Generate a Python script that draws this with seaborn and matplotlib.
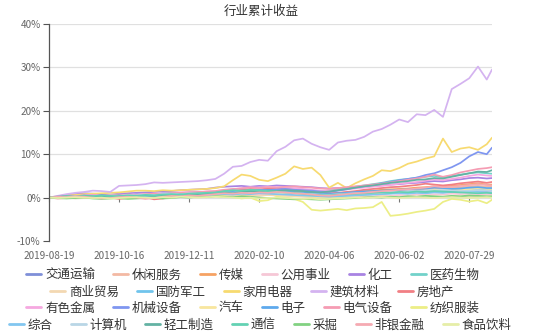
import numpy as np
import pandas as pd
import matplotlib
matplotlib.use("Agg")
import matplotlib.pyplot as plt
import seaborn as sns
from matplotlib.lines import Line2D
from matplotlib.ticker import FuncFormatter

sns.set_theme(style="white")
plt.rcParams['font.family'] = ['Noto Sans CJK SC', 'DejaVu Sans']

title = "行业累计收益"

# trading-day index of each sampled point (0 = 2019-08-19, 253 = last day)
day_index = [0, 5, 10, 15, 20, 25, 30, 35, 40, 45,
             50, 55, 60, 65, 70, 75, 80, 85, 90, 95,
             100, 105, 110, 115, 120, 125, 130, 135, 140, 145,
             150, 155, 160, 165, 170, 175, 180, 185, 190, 195,
             200, 205, 210, 215, 220, 225, 230, 235, 240, 245,
             250, 253]
n_days = 254
tick_days = [0, 40, 80, 120, 160, 200, 240]
tick_labels = ["2019-08-19", "2019-10-16", "2019-12-11", "2020-02-10",
               "2020-04-06", "2020-06-02", "2020-07-29"]

# cumulative returns, %
交通运输 = [0,0.1,0.0,0.1,0.2,0.1,0.0,-0.1,0.0,0.1,
        0.2,0.1,0.3,0.2,0.4,0.3,0.5,0.4,0.6,0.5,
        0.7,0.8,0.7,0.9,0.8,1.0,0.9,0.8,0.7,0.6,
        0.5,0.4,0.3,0.4,0.5,0.6,0.7,0.8,0.9,1.0,
        1.1,1.0,1.2,1.1,1.3,1.2,1.4,1.3,1.5,1.6,
        1.5,1.5]
休闲服务 = [0,0.1,0.2,0.0,-0.1,0.1,0.2,0.1,0.0,0.2,
        0.3,0.2,0.4,0.3,0.5,0.4,0.6,0.5,0.7,0.8,
        0.9,0.8,1.0,0.9,1.1,1.0,0.9,0.8,0.7,0.6,
        0.5,0.3,0.2,0.4,0.6,0.8,0.9,1.1,1.2,1.4,
        1.5,1.7,1.8,2.0,2.2,2.1,2.3,2.4,2.6,2.7,
        2.5,2.5]
传媒 = [0,0.1,0.3,0.2,0.4,0.5,0.3,0.2,0.4,0.6,
      0.5,0.7,0.6,0.8,0.7,0.9,1.0,0.9,1.1,1.2,
      1.3,1.2,1.4,1.3,1.5,1.4,1.6,1.5,1.4,1.3,
      1.2,1.0,0.9,1.0,1.2,1.3,1.5,1.6,1.8,1.9,
      2.0,2.1,2.3,2.4,2.6,2.5,2.7,2.9,3.1,3.3,
      3.0,3.0]
公用事业 = [0,0.0,-0.1,0.1,0.0,0.2,0.1,0.0,-0.1,0.0,
        0.1,0.2,0.1,0.3,0.2,0.4,0.3,0.4,0.5,0.4,
        0.6,0.5,0.7,0.6,0.8,0.7,0.6,0.5,0.4,0.3,
        0.2,0.1,0.0,0.1,0.2,0.3,0.4,0.3,0.5,0.4,
        0.6,0.5,0.7,0.6,0.8,0.7,0.9,0.8,0.9,0.8,
        0.8,0.8]
化工 = [0,0.3,0.6,0.8,1.0,0.9,0.8,0.7,0.9,1.0,
      1.1,1.2,1.3,1.4,1.5,1.7,1.8,1.9,2.0,2.3,
      2.5,2.6,2.7,2.5,2.7,2.6,2.8,2.7,2.6,2.5,
      2.4,2.2,2.1,2.2,2.3,2.4,2.6,2.7,2.8,3.0,
      3.1,3.3,3.4,3.6,3.8,3.7,4.0,4.2,4.5,4.6,
      4.4,4.5]
医药生物 = [0,0.1,0.2,0.1,0.3,0.2,0.4,0.3,0.5,0.4,
        0.6,0.5,0.7,0.8,0.7,0.9,1.0,1.1,1.0,1.2,
        1.4,1.3,1.5,1.7,1.6,1.8,1.7,1.9,1.8,1.6,
        1.5,1.4,1.6,1.9,2.2,2.5,2.8,3.1,3.4,3.8,
        4.1,4.3,4.6,4.8,5.0,4.7,5.0,5.3,5.6,5.8,
        5.6,5.5]
商业贸易 = [0,-0.1,0.0,-0.2,-0.1,0.0,0.1,0.0,-0.1,0.1,
        0.0,0.2,0.1,0.3,0.2,0.1,0.3,0.2,0.4,0.3,
        0.5,0.4,0.6,0.5,0.4,0.6,0.5,0.4,0.3,0.2,
        0.1,0.0,-0.1,0.0,0.1,0.0,0.2,0.1,0.3,0.2,
        0.1,0.3,0.2,0.4,0.3,0.2,0.4,0.3,0.2,0.3,
        0.3,0.3]
国防军工 = [0,0.1,0.0,0.2,0.1,0.3,0.2,0.4,0.3,0.5,
        0.4,0.6,0.5,0.7,0.6,0.8,0.7,0.9,0.8,1.0,
        1.1,1.0,1.2,1.1,1.3,1.2,1.1,1.0,0.9,0.8,
        0.7,0.6,0.5,0.6,0.8,0.9,1.0,1.1,1.2,1.3,
        1.4,1.5,1.4,1.6,1.7,1.6,1.8,1.7,1.9,2.0,
        1.9,1.8]
家用电器 = [0,0.3,0.5,0.6,0.8,0.9,1.0,1.1,1.2,1.4,
        1.6,1.6,1.5,1.7,1.6,1.7,1.8,1.9,2.0,2.2,
        2.6,4.0,5.3,5.0,4.1,3.8,4.6,5.5,7.2,6.6,
        6.9,5.2,2.3,3.4,2.2,3.3,4.2,5.0,6.3,6.1,
        6.8,7.8,8.3,9.0,9.5,13.6,10.5,11.3,11.6,11.0,
        12.3,13.8]
建筑材料 = [0,0.4,0.8,1.1,1.3,1.6,1.5,1.3,2.7,2.8,
        2.9,3.1,3.5,3.4,3.5,3.6,3.7,3.8,4.0,4.3,
        5.5,7.1,7.3,8.2,8.7,8.5,10.7,11.7,13.2,13.6,
        12.4,11.6,11.0,12.7,13.1,13.3,14.0,15.2,15.8,16.8,
        18.0,17.4,19.2,19.0,20.2,18.6,25.0,26.2,27.5,30.2,
        27.2,29.5]
房地产 = [0,-0.2,-0.1,0.2,0.1,0.3,0.2,0.0,-0.3,-0.1,
       0.2,0.1,-0.4,-0.2,0.1,0.3,0.5,0.7,0.8,1.0,
       1.3,1.6,1.8,2.0,1.9,2.1,2.2,2.0,1.9,1.7,
       1.5,1.2,1.0,1.1,1.3,1.5,1.8,2.0,2.2,2.4,
       2.5,2.7,2.9,3.2,3.0,2.8,3.0,3.3,3.5,3.7,
       3.4,3.6]
有色金属 = [0,0.2,0.4,0.3,0.5,0.6,0.4,0.5,0.7,0.6,
        0.8,0.7,0.9,1.0,1.1,1.2,1.3,1.2,1.4,1.5,
        1.7,1.9,2.2,2.4,2.3,2.5,2.4,2.3,2.2,2.0,
        1.8,1.6,1.5,1.7,1.9,2.1,2.3,2.5,2.7,2.9,
        3.2,3.4,3.6,3.9,4.2,4.0,4.3,4.6,5.0,5.3,
        5.1,5.0]
机械设备 = [0,0.2,0.4,0.3,0.5,0.4,0.3,0.4,0.6,0.5,
        0.7,0.6,0.8,0.9,0.8,1.0,1.1,1.0,1.2,1.3,
        1.5,1.4,1.6,1.5,1.8,1.7,1.9,2.0,1.8,1.7,
        1.6,1.4,1.3,1.6,1.9,2.3,2.6,2.9,3.3,3.6,
        4.0,4.3,4.6,5.2,5.6,6.3,7.0,8.0,9.5,10.5,
        10.0,11.5]
汽车 = [0,0.1,0.2,0.1,0.3,0.4,0.3,0.5,0.4,0.6,
      0.5,0.7,0.6,0.8,0.7,0.9,0.8,1.0,0.9,1.1,
      1.0,1.2,1.1,1.3,1.2,1.1,1.0,0.9,0.7,0.5,
      0.3,0.1,0.0,0.2,0.3,0.5,0.6,0.8,0.9,1.1,
      1.2,1.4,1.3,1.5,1.7,1.6,1.8,1.7,1.9,2.1,
      2.0,2.0]
电子 = [0,0.2,0.1,0.3,0.4,0.3,0.5,0.4,0.6,0.5,
      0.7,0.6,0.8,0.9,1.0,0.9,1.1,1.2,1.1,1.3,
      1.4,1.5,1.3,1.6,1.5,1.7,1.6,1.4,1.3,1.2,
      1.1,0.9,0.8,1.0,1.1,1.3,1.4,1.5,1.6,1.7,
      1.8,1.9,2.0,2.1,2.3,2.2,2.0,2.1,2.3,2.4,
      2.2,2.2]
电气设备 = [0,0.2,0.3,0.4,0.3,0.5,0.4,0.6,0.5,0.7,
        0.6,0.8,0.9,0.8,1.0,1.1,1.2,1.3,1.4,1.5,
        1.8,2.0,2.1,2.3,2.2,2.4,2.3,2.5,2.6,2.4,
        2.3,2.1,2.0,2.2,2.4,2.6,2.8,3.0,3.2,3.5,
        3.8,4.1,4.4,4.8,5.3,4.8,5.2,5.8,6.2,6.6,
        6.8,7.0]
纺织服装 = [0,0.1,0.0,0.2,0.1,0.3,0.2,0.1,0.3,0.2,
        0.4,0.3,0.2,0.4,0.3,0.5,0.4,0.3,0.2,0.4,
        0.3,0.1,-0.2,0.0,-0.8,-0.6,0.2,0.0,-0.3,-1.0,
        -2.8,-3.0,-2.8,-2.6,-2.9,-2.5,-2.4,-2.2,-1.0,-4.2,
        -4.0,-3.7,-3.3,-3.0,-2.6,-1.0,-0.3,-0.5,-0.9,-0.6,
        -1.3,-0.5]
综合 = [0,0.0,0.1,0.0,0.2,0.1,0.0,0.1,0.2,0.1,
      0.3,0.2,0.4,0.3,0.5,0.4,0.6,0.5,0.6,0.7,
      0.8,0.7,0.9,0.8,1.0,0.9,0.8,0.7,0.6,0.5,
      0.4,0.3,0.2,0.3,0.4,0.5,0.6,0.7,0.8,0.9,
      1.0,0.9,1.1,1.0,1.2,1.1,1.3,1.2,1.4,1.3,
      1.2,1.2]
计算机 = [0,0.1,0.2,0.3,0.2,0.4,0.3,0.5,0.4,0.6,
       0.5,0.7,0.6,0.8,0.9,0.8,1.0,0.9,1.1,1.0,
       1.2,1.1,1.3,1.2,1.4,1.3,1.2,1.1,1.0,0.9,
       0.8,0.7,0.6,0.8,0.9,1.0,1.1,1.2,1.3,1.4,
       1.3,1.5,1.4,1.6,1.5,1.7,1.6,1.5,1.6,1.7,
       1.6,1.5]
轻工制造 = [0,0.1,0.3,0.2,0.4,0.3,0.2,0.1,0.3,0.4,
        0.3,0.5,0.4,0.6,0.5,0.7,0.6,0.8,0.9,1.0,
        1.2,1.0,1.3,1.5,1.4,1.6,1.5,1.7,1.6,1.5,
        1.3,1.2,1.4,1.7,2.0,2.3,2.6,2.8,3.1,3.4,
        3.6,3.8,4.1,4.2,4.5,4.4,4.8,5.2,5.6,6.0,
        5.9,6.3]
通信 = [0,0.2,0.3,0.2,0.4,0.3,0.5,0.4,0.3,0.5,
      0.4,0.6,0.5,0.7,0.8,0.7,0.9,1.0,1.1,1.2,
      1.5,1.7,1.6,1.8,1.7,1.5,1.4,1.2,1.1,0.9,
      0.7,0.6,0.5,0.7,0.8,0.9,1.0,1.1,1.2,1.1,
      1.3,1.2,1.4,1.3,1.5,1.4,1.3,1.2,1.1,1.0,
      1.1,1.0]
采掘 = [0,-0.1,-0.2,-0.1,0.0,-0.2,-0.3,-0.2,-0.1,-0.3,
      -0.2,-0.1,0.0,-0.2,-0.1,0.1,0.0,0.2,0.1,0.3,
      0.2,0.1,0.3,0.2,0.0,-0.1,-0.2,-0.3,-0.4,-0.3,
      -0.4,-0.5,-0.4,-0.3,-0.2,-0.1,0.0,0.1,0.0,0.2,
      0.1,0.3,0.2,0.4,0.3,0.2,0.4,0.3,0.5,0.4,
      0.3,0.3]
非银金融 = [0,0.2,0.1,0.3,0.2,0.0,-0.2,-0.1,0.1,0.2,
        0.0,-0.3,-0.1,0.2,0.4,0.3,0.5,0.4,0.6,0.8,
        1.0,0.9,1.1,1.0,1.2,1.1,1.3,1.2,1.0,0.9,
        0.7,0.5,0.4,0.6,0.8,1.0,1.1,1.3,1.5,1.6,
        1.8,1.9,2.1,2.3,2.6,2.4,2.5,2.7,2.9,3.1,
        2.9,2.8]
食品饮料 = [0,-0.1,0.0,0.1,0.0,-0.1,0.0,-0.2,-0.1,0.0,
        0.1,0.0,-0.1,0.1,0.0,0.2,0.1,0.0,0.1,0.2,
        0.1,0.0,-0.1,0.0,-0.2,-0.1,0.0,-0.1,-0.2,-0.3,
        -0.2,-0.4,-0.3,-0.2,-0.1,0.0,-0.1,0.0,0.1,0.0,
        -0.1,0.0,0.1,0.0,-0.1,0.0,0.1,0.0,-0.1,0.0,
        0.1,0.0]

industries = ["交通运输", "休闲服务", "传媒", "公用事业", "化工", "医药生物",
              "商业贸易", "国防军工", "家用电器", "建筑材料", "房地产",
              "有色金属", "机械设备", "汽车", "电子", "电气设备", "纺织服装",
              "综合", "计算机", "轻工制造", "通信", "采掘", "非银金融", "食品饮料"]
series = [交通运输, 休闲服务, 传媒, 公用事业, 化工, 医药生物,
          商业贸易, 国防军工, 家用电器, 建筑材料, 房地产,
          有色金属, 机械设备, 汽车, 电子, 电气设备, 纺织服装,
          综合, 计算机, 轻工制造, 通信, 采掘, 非银金融, 食品饮料]
colors = ["#7f8fd8", "#f3b9a3", "#f6a263", "#f6c7d6", "#a883e2", "#72d2ca",
          "#f3d8b2", "#70c4ec", "#f7da70", "#d4b3f0", "#f17f84",
          "#f5a8e0", "#7f96f0", "#f8e69e", "#5ea9ec", "#f59cb3", "#ecee86",
          "#82c6f0", "#b9d6e6", "#63b2a3", "#63d2b3", "#82d282", "#f5aab2", "#e6eea8"]
legend_rows = [6, 5, 6, 7]

frames = []
for name, vals in zip(industries, series):
    frames.append(pd.DataFrame({"day": day_index, "ret": vals, "industry": name}))
df = pd.concat(frames, ignore_index=True)
palette = dict(zip(industries, colors))

fig = plt.figure(figsize=(5.54, 3.36), dpi=100)
ax = fig.add_axes([49/554, 1 - 241/336, (492 - 49)/554, (241 - 24)/336])

sns.lineplot(data=df, x="day", y="ret", hue="industry", palette=palette,
             hue_order=industries, linewidth=1.25, legend=False, ax=ax,
             estimator=None, sort=False)

ax.set_xlim(0, n_days - 1)
ax.set_ylim(-10, 40)
ax.set_yticks([-10, 0, 10, 20, 30, 40])
ax.yaxis.set_major_formatter(FuncFormatter(lambda v, p: f"{int(v)}%"))
ax.set_xticks(tick_days)
ax.set_xticklabels(tick_labels)
ax.set_xlabel("")
ax.set_ylabel("")

ax.yaxis.grid(True, color="#e0e0e0", linewidth=0.9)
ax.set_axisbelow(True)
ax.yaxis.get_gridlines()[0].set_visible(False)
for s in ["top", "right", "bottom"]:
    ax.spines[s].set_visible(False)
ax.spines["left"].set_color("#555555")
ax.spines["left"].set_linewidth(0.9)
ax.tick_params(axis="y", left=True, length=4, width=0.8, color="#555555",
               labelsize=7.2, labelcolor="#666666", pad=2)
ax.tick_params(axis="x", bottom=False, labelsize=7.2, labelcolor="#666666", pad=1)

sec = ax.secondary_xaxis(0.2)
sec.set_xticks(tick_days)
sec.set_xticklabels([])
sec.spines["bottom"].set_visible(False)
sec.tick_params(axis="x", length=3, width=0.8, color="#777777")

fig.text(261/554, 1 - 11/336, title, ha="center", va="center", fontsize=9, color="#333333")

row_y = [275, 292, 308, 325]
row_cx = [253, 252, 253, 260]
start = 0
for n, yy, cx in zip(legend_rows, row_y, row_cx):
    names = industries[start:start + n]
    handles = [Line2D([0], [0], color=palette[nm], lw=2) for nm in names]
    fig.legend(handles, names, loc="center", bbox_to_anchor=(cx/554, 1 - yy/336),
               ncol=n, frameon=False, fontsize=9, handlelength=1.2,
               handletextpad=0.3, columnspacing=1.45, borderpad=0, borderaxespad=0,
               labelcolor="#333333")
    start += n

fig.savefig("out.png", dpi=100)
